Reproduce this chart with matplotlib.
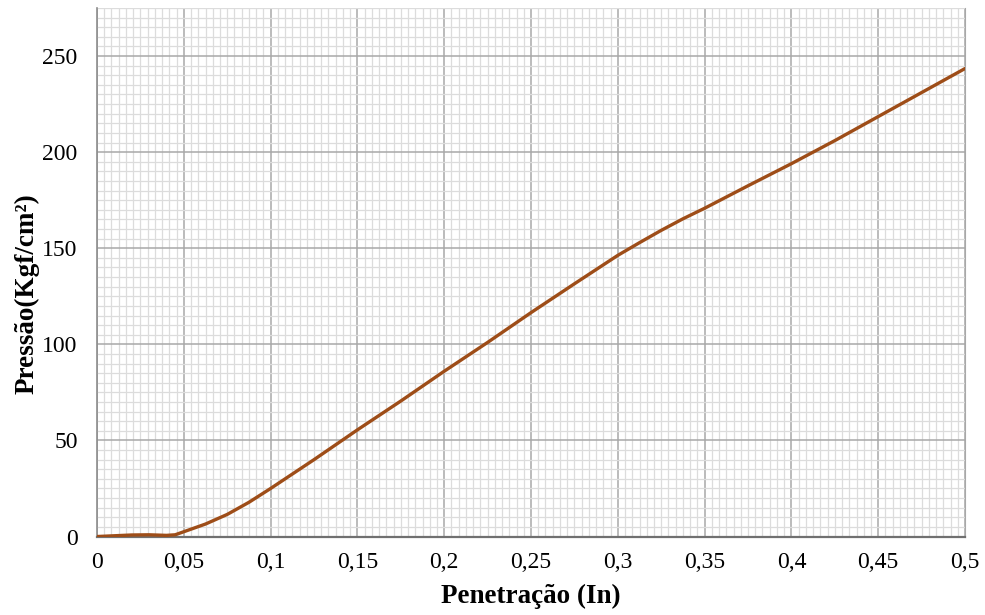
import matplotlib
matplotlib.use("Agg")
import matplotlib.pyplot as plt
from matplotlib.ticker import MultipleLocator, FuncFormatter

# Data
penetracao = [0.0, 0.01, 0.02, 0.03, 0.04, 0.045, 0.05, 0.0625, 0.075, 0.0875, 0.1,
              0.125, 0.15, 0.175, 0.2, 0.225, 0.25, 0.275, 0.3, 0.3125, 0.325, 0.3375, 0.35,
              0.375, 0.4, 0.425, 0.45, 0.475, 0.5]
pressao = [0.0, 0.4, 0.8, 0.9, 0.6, 0.9, 2.5, 6.5, 11.5, 17.8, 25.0,
           40.0, 55.5, 70.5, 86.0, 101.0, 116.5, 131.5, 146.3, 152.9, 159.3, 165.3, 170.8,
           182.5, 194.0, 206.0, 218.5, 231.0, 243.5]

x_ticks = [0, 0.05, 0.1, 0.15, 0.2, 0.25, 0.3, 0.35, 0.4, 0.45, 0.5]
y_ticks = [0, 50, 100, 150, 200, 250]

plt.rcParams['font.family'] = ['Liberation Serif', 'DejaVu Serif']

fig = plt.figure(figsize=(9.85, 6.15), dpi=100)
ax = fig.add_axes([0.0985, 0.1276, 0.9797 - 0.0985, 0.987 - 0.1276])

ax.set_xlim(0, 0.5)
ax.set_ylim(0, 275)

ax.xaxis.set_minor_locator(MultipleLocator(0.05 / 12))
ax.yaxis.set_minor_locator(MultipleLocator(5))

ax.set_xticks(x_ticks)
ax.set_yticks(y_ticks)

def fmt(v, pos):
    s = f"{v:.2f}".rstrip('0').rstrip('.')
    return s.replace('.', ',')

ax.xaxis.set_major_formatter(FuncFormatter(fmt))

ax.grid(which='minor', color='#DCDCDC', linewidth=0.9)
ax.grid(which='major', color='#A8A8A8', linewidth=1.1)
ax.set_axisbelow(True)

ax.tick_params(which='both', length=0)
ax.tick_params(axis='x', pad=11, labelsize=17)
ax.tick_params(axis='y', pad=14, labelsize=17)

ax.spines['top'].set_visible(False)
ax.spines['right'].set_color('#A8A8A8')
ax.spines['left'].set_color('#8C8C8C')
ax.spines['bottom'].set_color('#707070')
ax.spines['left'].set_linewidth(1.2)
ax.spines['bottom'].set_linewidth(1.6)

ax.plot(penetracao, pressao, color='#9E4D18', linewidth=2.4, solid_capstyle='round',
        solid_joinstyle='round', zorder=3)

ax.set_xlabel('Penetração (In)', fontsize=19.5, fontweight='bold')
ax.set_ylabel('Pressão(Kgf/cm²)', fontsize=19.5, fontweight='bold')
ax.xaxis.set_label_coords(0.5, -0.090)
ax.yaxis.set_label_coords(-0.066, 0.46)

fig.savefig('out.png', dpi=100)
